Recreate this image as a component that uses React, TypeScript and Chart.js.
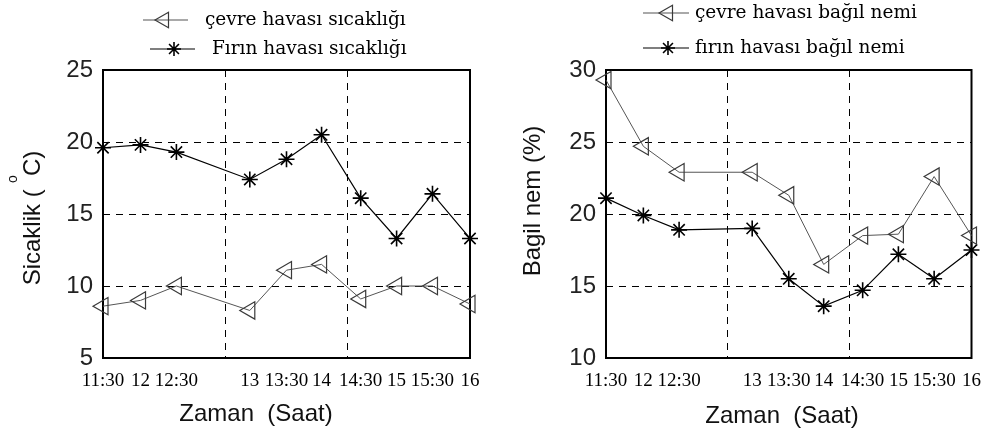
import React, { useEffect, useRef } from "react";
import { Chart, registerables } from "chart.js";

Chart.register(...registerables);

// ---- data ----
const xTimes = [11.5, 11.96, 12.4, 13.3, 13.75, 14.18, 14.66, 15.1, 15.54, 16];
const xTickLabels = ["11:30", "12", "12:30", "13", "13:30", "14", "14:30", "15", "15:30", "16"];
const xGridTimes = [13, 14.5];

const cevreTemp = [8.6, 9.0, 10.0, 8.3, 11.1, 11.5, 9.1, 10.0, 10.0, 8.75];
const firinTemp = [19.6, 19.8, 19.3, 17.4, 18.8, 20.5, 16.1, 13.3, 16.4, 13.3];

const cevreHum = [29.3, 24.7, 22.9, 22.9, 21.3, 16.5, 18.5, 18.6, 22.6, 18.5];
const firinHum = [21.1, 19.9, 18.9, 19.0, 15.5, 13.6, 14.7, 17.2, 15.5, 17.5];

const leftLegend = ["çevre havası sıcaklığı", "Fırın havası sıcaklığı"];
const rightLegend = ["çevre havası bağıl nemi", "fırın havası bağıl nemi"];

const GRAY_LINE = "#555";
const GRAY_MARK = "#3a3a3a";
const DASH = [7, 6];

function drawTriangle(ctx: CanvasRenderingContext2D, x: number, y: number, r: number) {
  let rad = -Math.PI / 2;
  ctx.beginPath();
  ctx.moveTo(x + Math.sin(rad) * r, y - Math.cos(rad) * r);
  rad += (2 * Math.PI) / 3;
  ctx.lineTo(x + Math.sin(rad) * r, y - Math.cos(rad) * r);
  rad += (2 * Math.PI) / 3;
  ctx.lineTo(x + Math.sin(rad) * r, y - Math.cos(rad) * r);
  ctx.closePath();
  ctx.stroke();
}

function drawStar(ctx: CanvasRenderingContext2D, x: number, y: number, r: number) {
  ctx.beginPath();
  for (let i = 0; i < 4; i++) {
    const a = (i * Math.PI) / 4;
    ctx.moveTo(x - Math.cos(a) * r, y - Math.sin(a) * r);
    ctx.lineTo(x + Math.cos(a) * r, y + Math.sin(a) * r);
  }
  ctx.stroke();
}

const decorPlugin = {
  id: "decor",
  beforeDatasetsDraw(chart: any) {
    const { ctx, chartArea } = chart;
    ctx.save();
    ctx.strokeStyle = "#000";
    ctx.lineWidth = 2;
    ctx.setLineDash([]);
    ctx.strokeRect(chartArea.left, chartArea.top, chartArea.right - chartArea.left, chartArea.bottom - chartArea.top);
    ctx.restore();
  },
  afterDraw(chart: any, _args: any, opts: any) {
    const { ctx } = chart;
    ctx.save();
    // legend
    (opts.legendRows || []).forEach((row: any, i: number) => {
      const ds = chart.data.datasets[i];
      ctx.strokeStyle = ds.borderColor;
      ctx.lineWidth = 1.2;
      ctx.setLineDash([]);
      ctx.beginPath();
      ctx.moveTo(row.x1, row.y);
      ctx.lineTo(row.x2, row.y);
      ctx.stroke();
      ctx.strokeStyle = ds.pointBorderColor;
      ctx.lineWidth = ds.pointBorderWidth;
      if (ds.pointStyle === "triangle") drawTriangle(ctx, row.mx, row.y, 9);
      else drawStar(ctx, row.mx, row.y, 7);
      ctx.fillStyle = "#000";
      ctx.font = "18.5px 'DejaVu Serif'";
      ctx.textAlign = "left";
      ctx.textBaseline = "middle";
      ctx.fillText(ds.label, row.tx, row.y);
    });
    // axis titles
    ctx.fillStyle = "#111";
    ctx.font = "24px 'Liberation Sans'";
    ctx.textAlign = "center";
    ctx.textBaseline = "middle";
    const xt = opts.xTitle;
    ctx.fillText(xt.text, xt.x, xt.y);
    const yt = opts.yTitle;
    ctx.save();
    ctx.translate(yt.x, yt.y);
    ctx.rotate(-Math.PI / 2);
    ctx.fillText(yt.text, 0, 0);
    ctx.restore();
    if (opts.sup) {
      ctx.save();
      ctx.font = "14px 'Liberation Sans'";
      ctx.translate(opts.sup.x, opts.sup.y);
      ctx.rotate(-Math.PI / 2);
      ctx.fillText(opts.sup.text, 0, 0);
      ctx.restore();
    }
    ctx.restore();
  },
};

function makeConfig(p: any) {
  return {
    type: "line",
    data: {
      datasets: [
        {
          label: p.labels[0],
          data: xTimes.map((x, i) => ({ x, y: p.cevre[i] })),
          borderColor: GRAY_LINE,
          borderWidth: 1,
          pointStyle: "triangle",
          pointRotation: -90,
          pointRadius: 10,
          pointBorderColor: GRAY_MARK,
          pointBorderWidth: 1.2,
          pointBackgroundColor: "transparent",
          clip: false,
        },
        {
          label: p.labels[1],
          data: xTimes.map((x, i) => ({ x, y: p.firin[i] })),
          borderColor: "#000",
          borderWidth: 1.2,
          pointStyle: "star",
          pointRadius: 8,
          pointBorderColor: "#000",
          pointBorderWidth: 1.6,
          pointBackgroundColor: "#000",
          clip: false,
        },
      ],
    },
    options: {
      responsive: false,
      animation: false,
      events: [],
      layout: { padding: { top: 70, right: p.padRight, left: 0, bottom: 0 } },
      plugins: {
        legend: { display: false },
        tooltip: { enabled: false },
        decor: {
          legendRows: p.legendRows,
          xTitle: p.xTitle,
          yTitle: p.yTitle,
          sup: p.sup,
        },
      },
      scales: {
        x: {
          type: "linear",
          min: xTimes[0],
          max: xTimes[xTimes.length - 1],
          afterBuildTicks: (scale: any) => {
            const vals = [...xTimes, ...xGridTimes].sort((a, b) => a - b);
            scale.ticks = vals.map((v) => ({ value: v }));
          },
          afterFit: (scale: any) => {
            scale.height = 72;
          },
          grid: {
            drawTicks: false,
            lineWidth: 1,
            color: (c: any) => (c.tick && xGridTimes.includes(c.tick.value) ? "#000" : "transparent"),
          },
          border: { display: false, dash: DASH },
          ticks: {
            autoSkip: false,
            maxRotation: 0,
            padding: 12,
            color: "#000",
            font: { family: "'Liberation Serif'", size: 19 },
            callback: (v: number) => {
              const i = xTimes.indexOf(v);
              return i >= 0 ? xTickLabels[i] : "";
            },
          },
        },
        y: {
          min: p.yMin,
          max: p.yMax,
          afterFit: (scale: any) => {
            scale.width = p.yWidth;
          },
          grid: { drawTicks: false, color: "#000", lineWidth: 1 },
          border: { display: false, dash: DASH },
          ticks: {
            stepSize: 5,
            padding: 10,
            color: "#222",
            font: { family: "'Liberation Sans'", size: 24 },
          },
        },
      },
    },
    plugins: [decorPlugin],
  };
}

function Panel({ params, width, left }: any) {
  const ref = useRef<HTMLCanvasElement>(null);
  useEffect(() => {
    const chart = new Chart(ref.current as any, makeConfig(params) as any);
    return () => chart.destroy();
  }, []);
  return (
    <canvas
      ref={ref}
      width={width}
      height={430}
      style={{ position: "absolute", left, top: 0, width, height: 430, display: "block" }}
    />
  );
}

const leftParams = {
  labels: leftLegend,
  cevre: cevreTemp,
  firin: firinTemp,
  yMin: 5,
  yMax: 25,
  yWidth: 103,
  padRight: 26,
  legendRows: [
    { y: 20, x1: 143, x2: 188, mx: 164, tx: 205 },
    { y: 49, x1: 150, x2: 195, mx: 174, tx: 212 },
  ],
  xTitle: { text: "Zaman  (Saat)", x: 256, y: 414 },
  yTitle: { text: "Sicaklik (  C)", x: 33, y: 218 },
  sup: { text: "o", x: 13, y: 179 },
};

const rightParams = {
  labels: rightLegend,
  cevre: cevreHum,
  firin: firinHum,
  yMin: 10,
  yMax: 30,
  yWidth: 110,
  padRight: 20,
  legendRows: [
    { y: 13, x1: 147, x2: 193, mx: 172, tx: 199 },
    { y: 48, x1: 147, x2: 193, mx: 172, tx: 199 },
  ],
  xTitle: { text: "Zaman  (Saat)", x: 286, y: 416 },
  yTitle: { text: "Bagil nem (%)", x: 37, y: 201 },
  sup: null,
};

export default function App() {
  return (
    <div style={{ position: "absolute", left: 0, top: 0, width: 993, height: 430, background: "#fff" }}>
      <Panel params={leftParams} width={496} left={0} />
      <Panel params={rightParams} width={497} left={496} />
    </div>
  );
}
